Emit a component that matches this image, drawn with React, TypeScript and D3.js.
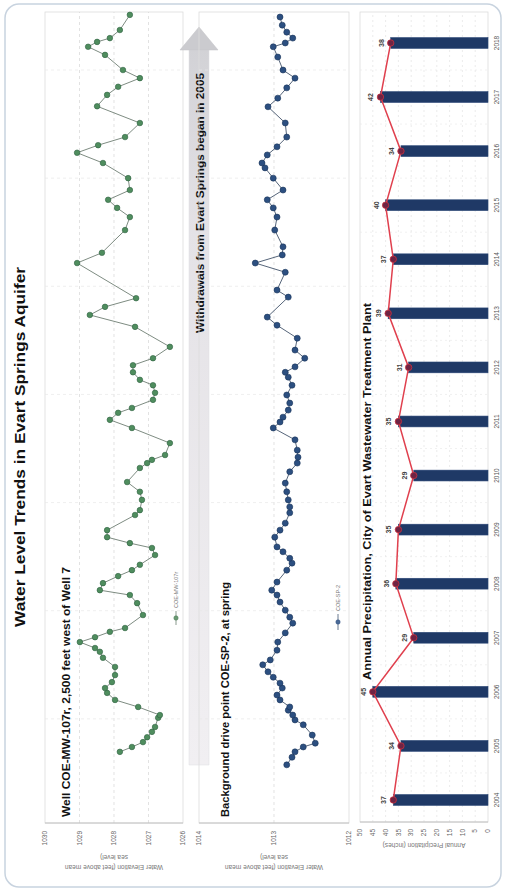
import React from 'react';
import * as d3 from 'd3';

// ---------- DATA ----------
const wellDates = [2005.39,2005.48,2005.57,2005.66,2005.76,2005.85,2006.02,2006.07,2006.22,2006.35,2006.48,2006.57,2006.68,2006.81,2006.96,2007.13,2007.24,2007.31,2007.42,2007.51,2007.61,2007.68,2007.92,2008.14,2008.29,2008.38,2008.51,2008.64,2008.75,2008.85,2009.03,2009.16,2009.25,2009.36,2009.49,2009.77,2009.86,2010.05,2010.20,2010.38,2010.64,2010.73,2010.79,2010.88,2011.10,2011.38,2011.53,2011.66,2011.75,2011.90,2012.03,2012.17,2012.27,2012.41,2012.54,2012.67,2012.88,2013.25,2013.47,2013.62,2013.78,2014.43,2014.62,2015.04,2015.28,2015.45,2015.60,2015.78,2016.00,2016.28,2016.47,2016.61,2016.76,2017.02,2017.33,2017.54,2017.69,2017.85,2018.00,2018.28,2018.43,2018.52,2018.59,2018.74,2019.02];
const wellLevels = [1027.83,1027.48,1027.16,1027.04,1026.90,1026.81,1026.72,1026.67,1027.30,1027.97,1028.20,1028.26,1028.06,1027.97,1027.97,1028.32,1028.41,1028.55,1028.99,1028.55,1028.12,1027.68,1027.16,1027.33,1027.54,1028.41,1028.32,1027.88,1027.48,1027.25,1026.81,1026.90,1027.54,1028.20,1028.20,1027.39,1027.25,1027.19,1027.25,1027.62,1027.25,1027.04,1026.90,1026.52,1026.38,1027.48,1028.12,1027.88,1027.48,1026.87,1026.81,1026.87,1027.25,1027.45,1027.45,1026.87,1026.38,1027.39,1028.70,1028.26,1027.36,1029.07,1028.35,1027.68,1027.54,1027.91,1028.17,1027.54,1027.59,1028.32,1029.07,1028.46,1027.68,1027.25,1028.49,1028.20,1027.88,1027.25,1027.74,1028.26,1028.75,1028.49,1028.12,1027.83,1027.54];

const springDates = [2005.15,2005.29,2005.39,2005.48,2005.55,2005.70,2005.89,2005.98,2006.07,2006.16,2006.22,2006.35,2006.44,2006.57,2006.66,2006.77,2006.87,2007.00,2007.09,2007.27,2007.42,2007.59,2007.77,2007.88,2008.01,2008.16,2008.29,2008.38,2008.53,2008.75,2008.88,2008.97,2009.09,2009.18,2009.36,2009.49,2009.62,2009.81,2009.92,2010.05,2010.20,2010.36,2010.57,2010.73,2010.84,2010.97,2011.16,2011.38,2011.49,2011.58,2011.71,2011.84,2011.99,2012.17,2012.32,2012.41,2012.51,2012.67,2012.82,2013.04,2013.28,2013.43,2013.80,2013.93,2014.26,2014.43,2014.58,2014.73,2015.04,2015.28,2015.45,2015.60,2015.78,2016.00,2016.19,2016.28,2016.43,2016.58,2016.76,2017.02,2017.32,2017.48,2017.67,2017.85,2018.00,2018.24,2018.43,2018.50,2018.59,2018.70,2018.83,2018.98];
const springLevels = [1012.83,1012.76,1012.72,1012.61,1012.45,1012.49,1012.61,1012.72,1012.75,1012.81,1012.79,1012.92,1012.96,1012.89,1012.92,1013.01,1013.08,1013.15,1013.05,1012.96,1012.95,1012.85,1012.75,1012.79,1012.85,1012.92,1012.96,1013.03,1012.96,1012.83,1012.76,1012.79,1012.88,1012.96,1012.99,1012.92,1012.85,1012.79,1012.79,1012.81,1012.83,1012.85,1012.79,1012.69,1012.68,1012.69,1012.72,1013.01,1012.92,1012.88,1012.81,1012.79,1012.83,1012.76,1012.81,1012.85,1012.72,1012.59,1012.72,1012.69,1012.96,1013.09,1012.81,1012.96,1012.85,1013.25,1012.89,1012.88,1012.99,1012.96,1013.01,1013.09,1012.88,1013.01,1013.12,1013.16,1013.09,1012.96,1012.83,1012.85,1013.08,1012.95,1012.83,1012.72,1012.88,1012.95,1013.01,1012.85,1012.75,1012.83,1012.89,1012.92];

const precipYears = ['2004','2005','2006','2007','2008','2009','2010','2011','2012','2013','2014','2015','2016','2017','2018'];
const precipInches = [37, 34, 45, 29, 36, 35, 29, 35, 31, 39, 37, 40, 34, 42, 38];

const wellTicks = [1026, 1027, 1028, 1029, 1030];
const springTicks = [1012, 1013, 1014];
const precipTicks = [0, 5, 10, 15, 20, 25, 30, 35, 40, 45, 50];
const gridYears = [2006, 2008, 2010, 2012, 2014, 2016, 2018];

const FONT = "'Liberation Sans', Arial, sans-serif";

export default function App() {
  // Drawn in the chart's own (landscape) frame, then rotated onto the portrait page.
  const time = d3.scaleLinear().domain([2004, 2019.1]).range([65, 65 + 54.07 * 15.1]);
  const yWell = d3.scaleLinear().domain([1026, 1030]).range([183, 45]);
  const ySpring = d3.scaleLinear().domain([1012, 1014]).range([349, 199]);
  const xBar = d3.scaleBand<string>().domain(precipYears).range([65, 65 + 54.07 * 15]).paddingInner(0.8).paddingOuter(0.4);
  const yBar = d3.scaleLinear().domain([0, 50]).range([488, 360]);

  const well = wellDates.map((t, i) => ({ t, v: wellLevels[i] }));
  const spring = springDates.map((t, i) => ({ t, v: springLevels[i] }));
  const precip = precipYears.map((y, i) => ({ y, v: precipInches[i] }));

  const wellLine = d3.line<{ t: number; v: number }>().x(d => time(d.t)).y(d => yWell(d.v));
  const springLine = d3.line<{ t: number; v: number }>().x(d => time(d.t)).y(d => ySpring(d.v));
  const cx = (y: string) => (xBar(y) as number) + xBar.bandwidth() / 2;
  const precipLine = d3.line<{ y: string; v: number }>().x(d => cx(d.y)).y(d => yBar(d.v));

  const uL = 69, uR = 880;

  const panelGrid = (scale: d3.ScaleLinear<number, number>, ticks: number[], v0: number, v1: number) => (
    <g>
      <rect x={uL} y={v0} width={uR - uL} height={v1 - v0} fill="none" stroke="#dcdcdc" strokeWidth={0.8} />
      {ticks.slice(1, -1).map(tk => (
        <line key={'h' + tk} x1={uL} x2={uR} y1={scale(tk)} y2={scale(tk)} stroke="#d6d6d6" strokeWidth={0.7} strokeDasharray="3,3" />
      ))}
      {gridYears.map(g => (
        <line key={'v' + g} x1={time(g)} x2={time(g)} y1={v0} y2={v1} stroke="#e8e8e8" strokeWidth={0.7} strokeDasharray="3,3" />
      ))}
      <line x1={uL} x2={uL} y1={v0} y2={v1} stroke="#b8b8b8" strokeWidth={0.8} />
      {ticks.map(tk => (
        <text key={'l' + tk} x={uL - 8} y={scale(tk)} dy="0.35em" textAnchor="end" fontSize={6.5} fill="#666">{tk}</text>
      ))}
    </g>
  );

  const shaftPts = [[127, 189], [842, 189], [842, 209], [127, 209]];
  const headPts = [[842, 180], [865, 199], [842, 218]];

  return (
    <svg width={508} height={892} style={{ position: 'absolute', left: 0, top: 0, background: '#fff' }} fontFamily={FONT}>
      <defs>
        <linearGradient id="arrowGrad" x1="0" x2="1" y1="0" y2="0">
          <stop offset="0" stopColor="#f1eff2" />
          <stop offset="0.75" stopColor="#e4e2e6" />
          <stop offset="1" stopColor="#d2d2d6" />
        </linearGradient>
      </defs>
      <rect x={5} y={4} width={496} height={883} rx={14} fill="#fff" stroke="#c8d3df" strokeWidth={1.5} />
      <g transform="translate(0,892) rotate(-90)">
        {/* Main title */}
        <text x={265} y={25} fontSize={15.5} fontWeight="bold" fill="#111" textLength={360} lengthAdjust="spacingAndGlyphs">Water Level Trends in Evart Springs Aquifer</text>

        {/* Panel 1: well */}
        {panelGrid(yWell, wellTicks, 45, 183)}
        <text x={75} y={70} fontSize={10.5} fontWeight="bold" fill="#111" textLength={250} lengthAdjust="spacingAndGlyphs">Well COE-MW-107r, 2,500 feet west of Well 7</text>
        <g transform={`translate(25,${(45 + 183) / 2}) rotate(-90)`}>
          <text textAnchor="middle" fontSize={6.5} fill="#777" dy="0.35em">Water Elevation (feet above mean</text>
        </g>
        <g transform={`translate(35,${(45 + 183) / 2}) rotate(-90)`}>
          <text textAnchor="middle" fontSize={6.5} fill="#777" dy="0.35em">sea level)</text>
        </g>
        <path d={wellLine(well) || ''} fill="none" stroke="#7e8c82" strokeWidth={1} />
        {well.map((d, i) => (
          <circle key={i} cx={time(d.t)} cy={yWell(d.v)} r={2.8} fill="#4f8d5e" stroke="#2f6142" strokeWidth={0.6} />
        ))}
        <g transform="translate(267,176)">
          <line x1={0} x2={14} y1={0} y2={0} stroke="#8a9a8e" strokeWidth={1} />
          <circle cx={7} cy={0} r={2.2} fill="#6a9a74" stroke="#4a7a55" strokeWidth={0.5} />
          <text x={17} y={0} dy="0.35em" fontSize={5.5} fill="#777">COE-MW-107r</text>
        </g>

        {/* Withdrawals arrow */}
        <polygon points={shaftPts.map(p => p.join(',')).join(' ')} fill="url(#arrowGrad)" stroke="#dedde2" strokeWidth={0.5} />
        <polygon points={headPts.map(p => p.join(',')).join(' ')} fill="#cbcbcf" stroke="#c2c2c6" strokeWidth={0.5} />
        <text x={559} y={203.5} fontSize={11} fontWeight="bold" fill="#111" textLength={260} lengthAdjust="spacingAndGlyphs">Withdrawals from Evart Springs began in 2005</text>

        {/* Panel 2: spring */}
        {panelGrid(ySpring, springTicks, 199, 349)}
        <text x={75} y={229} fontSize={10} fontWeight="bold" fill="#111" textLength={235} lengthAdjust="spacingAndGlyphs">Background drive point COE-SP-2, at spring</text>
        <g transform={`translate(25,${(199 + 349) / 2}) rotate(-90)`}>
          <text textAnchor="middle" fontSize={6.5} fill="#777" dy="0.35em">Water Elevation (feet above mean</text>
        </g>
        <g transform={`translate(35,${(199 + 349) / 2}) rotate(-90)`}>
          <text textAnchor="middle" fontSize={6.5} fill="#777" dy="0.35em">sea level)</text>
        </g>
        <path d={springLine(spring) || ''} fill="none" stroke="#56657a" strokeWidth={1} />
        {spring.map((d, i) => (
          <circle key={i} cx={time(d.t)} cy={ySpring(d.v)} r={3} fill="#2c4f80" stroke="#1a3459" strokeWidth={0.6} />
        ))}
        <g transform="translate(262,338)">
          <line x1={0} x2={16} y1={0} y2={0} stroke="#6a7a90" strokeWidth={1} />
          <circle cx={8} cy={0} r={2.2} fill="#4a6a96" stroke="#2c4f80" strokeWidth={0.5} />
          <text x={19} y={0} dy="0.35em" fontSize={5.5} fill="#777">COE-SP-2</text>
        </g>

        {/* Panel 3: precipitation */}
        <rect x={70} y={360} width={uR - 70} height={128} fill="none" stroke="#dcdcdc" strokeWidth={0.8} />
        {precipTicks.slice(1, -1).map(tk => (
          <line key={'g' + tk} x1={70} x2={uR} y1={yBar(tk)} y2={yBar(tk)} stroke="#dedede" strokeWidth={0.6} strokeDasharray="2,3" />
        ))}
        {precipYears.slice(1).map(y => (
          <line key={'s' + y} x1={cx(y) - xBar.step() / 2} x2={cx(y) - xBar.step() / 2} y1={360} y2={488} stroke="#e8e8e8" strokeWidth={0.6} strokeDasharray="2,3" />
        ))}
        <line x1={70} x2={70} y1={360} y2={488} stroke="#b8b8b8" strokeWidth={0.8} />
        {precipTicks.map(tk => (
          <text key={'pt' + tk} x={63} y={yBar(tk)} dy="0.35em" textAnchor="end" fontSize={6.5} fill="#666">{tk}</text>
        ))}
        <g transform={`translate(47,424) rotate(-90)`}>
          <text textAnchor="middle" fontSize={6.5} fill="#777" dy="0.35em">Annual Precipitation (inches)</text>
        </g>
        {precip.map(d => (
          <rect key={d.y} x={xBar(d.y)} y={yBar(d.v)} width={xBar.bandwidth()} height={yBar(0) - yBar(d.v)} fill="#1f3966" stroke="#2a4676" strokeWidth={0.6} />
        ))}
        <path d={precipLine(precip) || ''} fill="none" stroke="#e0404e" strokeWidth={1.5} />
        {precip.map(d => (
          <circle key={'c' + d.y} cx={cx(d.y)} cy={yBar(d.v)} r={3.2} fill="#6e2444" stroke="#c8303f" strokeWidth={0.8} />
        ))}
        {precip.map(d => (
          <text key={'dl' + d.y} x={cx(d.y)} y={yBar(d.v) - 7} textAnchor="middle" fontSize={7} fontWeight="bold" fill="#444">{d.v}</text>
        ))}
        {precip.map(d => (
          <text key={'yl' + d.y} x={cx(d.y)} y={499} textAnchor="middle" fontSize={6.5} fill="#555">{d.y}</text>
        ))}
        <text x={212} y={371} fontSize={10.5} fontWeight="bold" fill="#111" textLength={377} lengthAdjust="spacingAndGlyphs">Annual Precipitation, City of Evart Wastewater Treatment Plant</text>
      </g>
    </svg>
  );
}
